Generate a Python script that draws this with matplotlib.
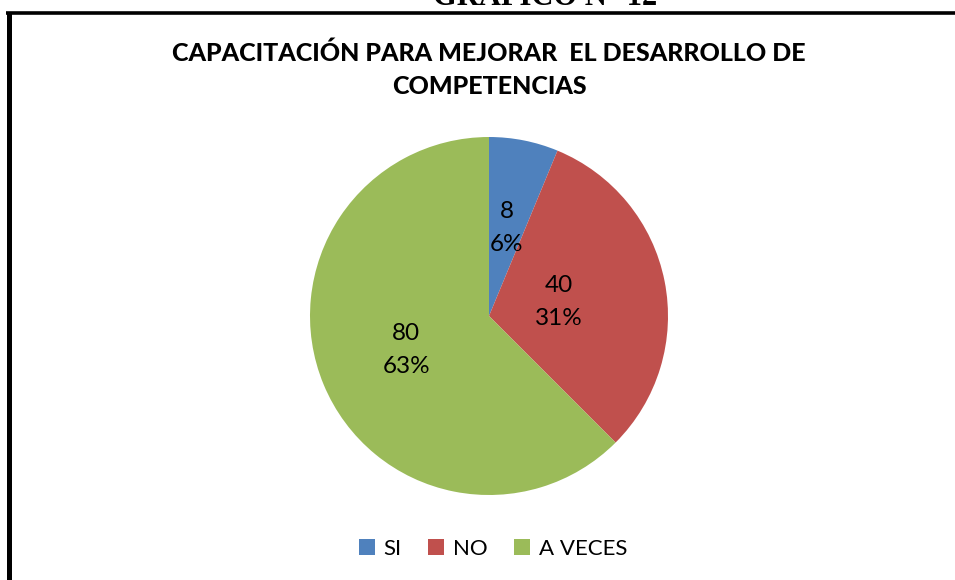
import numpy as np
import matplotlib
matplotlib.use("Agg")
import matplotlib.pyplot as plt
from matplotlib.patches import Patch
from matplotlib.lines import Line2D

categorias = ["SI", "NO", "A VECES"]
valores = [8, 40, 80]
colores = ["#4F81BD", "#C0504D", "#9BBB59"]
titulo = "CAPACITACIÓN PARA MEJORAR  EL DESARROLLO DE\nCOMPETENCIAS"
encabezado = "GRÁFICO N° 12"

W, H = 955, 580
fig = plt.figure(figsize=(W / 100, H / 100), dpi=100)
fig.patch.set_facecolor("white")

# marco del grafico (solo se ven borde izquierdo y superior)
fig.add_artist(Line2D([8.5 / W, 8.5 / W], [0, 1 - 12.5 / H], color="black",
                      lw=3.6, transform=fig.transFigure, solid_capstyle="butt"))
fig.add_artist(Line2D([6 / W, 1], [1 - 12.5 / H, 1 - 12.5 / H], color="black",
                      lw=2.6, transform=fig.transFigure, solid_capstyle="butt"))

fig.text(545 / W, 1 - 5 / H, encabezado, ha="center", va="baseline",
         fontsize=22, fontweight="bold", family="Liberation Serif")

fig.text(489 / W, 1 - 70 / H, titulo, ha="center", va="center",
         fontsize=18, fontweight="black", family="Lato", linespacing=1.55)

cx, cy, r = 489, 580 - 316, 179
ax = fig.add_axes([(cx - r) / W, (cy - r) / H, 2 * r / W, 2 * r / H])
wedges, _ = ax.pie(valores, colors=colores, startangle=90, counterclock=False,
                   radius=1, wedgeprops=dict(linewidth=0))
ax.set_xlim(-1, 1)
ax.set_ylim(-1, 1)
ax.set_aspect("auto")
ax.axis("off")

total = sum(valores)
dist = [0.5, 0.4, 0.5]
for w, v, d in zip(wedges, valores, dist):
    ang = np.deg2rad((w.theta1 + w.theta2) / 2)
    pct = int(100 * v / total + 0.5)
    ax.text(d * np.cos(ang), d * np.sin(ang), f"{v}\n{pct}%",
            ha="center", va="center", fontsize=17.5, family="Lato", linespacing=1.7)

handles = [Patch(facecolor=c, edgecolor="none") for c in colores]
fig.legend(handles, categorias, loc="center", bbox_to_anchor=(493 / W, 1 - 549 / H),
           ncol=3, frameon=False, prop=dict(family="Lato", size=16),
           handlelength=0.7, handleheight=0.7, handletextpad=0.4, columnspacing=1.2)

fig.savefig("out.png", dpi=100)
